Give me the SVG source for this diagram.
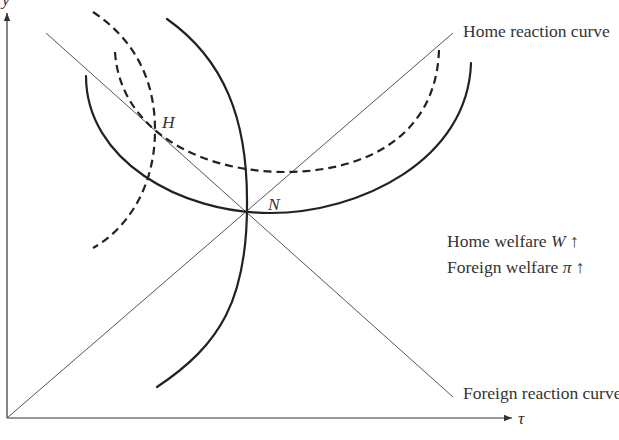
<svg xmlns="http://www.w3.org/2000/svg" width="619" height="440" viewBox="0 0 619 440">
<style>
.axis{stroke:#333;stroke-width:1.2;fill:none}
.rl{stroke:#555;stroke-width:1;fill:none}
.cv{stroke:#222;stroke-width:2.2;fill:none;stroke-linecap:round}
.dash{stroke-dasharray:8,5;stroke-linecap:butt}
text{font-family:"Liberation Serif","DejaVu Serif",serif;font-size:17.5px;fill:#333}
.it{font-style:italic}
</style>
<defs>
<marker id="ah" viewBox="0 0 10 10" refX="10" refY="5" markerWidth="8" markerHeight="8" markerUnits="userSpaceOnUse" orient="auto">
<path d="M0,1 L10,5 L0,9 Z" fill="#333"/>
</marker>
</defs>
<rect width="619" height="440" fill="#fff"/>
<g id="axes">
<line class="axis" x1="7" y1="418" x2="7" y2="13" marker-end="url(#ah)"/>
<line class="axis" x1="7" y1="418" x2="512" y2="418" marker-end="url(#ah)"/>
<text class="it" x="2" y="5">y</text>
<text class="it" x="518" y="424">τ</text>
</g>
<g id="connectors">
<line id="home-reaction" class="rl" x1="7" y1="418" x2="453" y2="33"/>
<line id="foreign-reaction" class="rl" x1="46" y1="33" x2="453" y2="397"/>
<path id="home-iso-N" class="cv" d="M86,76 C86,160 180,213 270,213 C360,213 468,160 471,63"/>
<path id="home-iso-H" class="cv dash" d="M115,52 C120,130 200,172 285,172 C360,172 436,140 439,50"/>
<path id="foreign-iso-N" class="cv" d="M167,19 C225,60 247,120 247,200 C248,300 220,345 157,387"/>
<path id="foreign-iso-H" class="cv dash" d="M93,12 C135,40 155,80 155,130 C155,190 125,230 93,248"/>
</g>
<g id="node-H"><text class="it" x="162" y="128">H</text></g>
<g id="node-N"><text class="it" x="268" y="210">N</text></g>
<g id="label-home"><text x="463" y="37">Home reaction curve</text></g>
<g id="label-foreign"><text x="463" y="399">Foreign reaction curve</text></g>
<g id="label-welfare">
<text x="447" y="247">Home welfare <tspan class="it">W</tspan> ↑</text>
<text x="447" y="273">Foreign welfare <tspan class="it">π</tspan> ↑</text>
</g>
</svg>
